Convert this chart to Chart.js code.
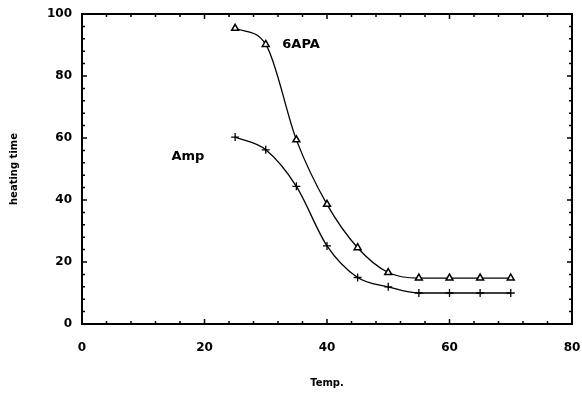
<!DOCTYPE html>
<html>
<head>
<meta charset="utf-8">
<script src="https://cdn.jsdelivr.net/npm/chart.js"></script>
<style>
  html, body { margin: 0; padding: 0; background: #fff; }
  #wrap { width: 582px; height: 393px; }
</style>
</head>
<body>
<div id="wrap"><canvas id="chart"></canvas></div>
<script>
// values
const temps = [25, 30, 35, 40, 45, 50, 55, 60, 65, 70];
const apa6 = [95.4, 90.2, 59.4, 38.6, 24.6, 16.6, 14.8, 14.8, 14.8, 14.8];
const amp = [60.3, 56.2, 44.4, 25.2, 15.0, 12.0, 10.0, 10.0, 10.0, 10.0];
const xTicks = [0, 20, 40, 60, 80];
const yTicks = [0, 20, 40, 60, 80, 100];

const font = "'DejaVu Sans', sans-serif";

function pts(ys) {
  return temps.map((t, i) => ({ x: t, y: ys[i] }));
}

// inward tick marks on all four sides + frame + curve labels
const framePlugin = {
  id: 'frame',
  afterDraw(chart) {
    const ctx = chart.ctx;
    const a = chart.chartArea;
    const xs = chart.scales.x, ys = chart.scales.y;
    ctx.save();
    ctx.strokeStyle = '#000';
    ctx.lineWidth = 2;
    ctx.strokeRect(a.left, a.top, a.right - a.left, a.bottom - a.top);
    ctx.lineWidth = 1.5;
    ctx.beginPath();
    for (let v = 0; v <= 80; v += 4) {
      const p = xs.getPixelForValue(v);
      const len = v % 20 === 0 ? 5 : 3;
      ctx.moveTo(p, a.bottom); ctx.lineTo(p, a.bottom - len);
      ctx.moveTo(p, a.top); ctx.lineTo(p, a.top + len);
    }
    for (let v = 0; v <= 100; v += 4) {
      const p = ys.getPixelForValue(v);
      const len = v % 20 === 0 ? 5 : 3;
      ctx.moveTo(a.left, p); ctx.lineTo(a.left + len, p);
      ctx.moveTo(a.right, p); ctx.lineTo(a.right - len, p);
    }
    ctx.stroke();
    ctx.fillStyle = '#000';
    ctx.font = 'bold 13px ' + font;
    ctx.textBaseline = 'middle';
    ctx.textAlign = 'left';
    ctx.fillText('6APA', xs.getPixelForValue(32.7), ys.getPixelForValue(90.2));
    ctx.fillText('Amp', xs.getPixelForValue(14.6), ys.getPixelForValue(54));
    ctx.restore();
  }
};

new Chart(document.getElementById('chart'), {
  type: 'scatter',
  data: {
    datasets: [
      {
        label: '6APA',
        data: pts(apa6),
        showLine: true,
        cubicInterpolationMode: 'monotone',
        borderColor: '#000',
        borderWidth: 1.3,
        pointStyle: 'triangle',
        pointRadius: 4,
        pointBorderWidth: 1.5,
        pointBorderColor: '#000',
        pointBackgroundColor: '#fff'
      },
      {
        label: 'Amp',
        data: pts(amp),
        showLine: true,
        cubicInterpolationMode: 'monotone',
        borderColor: '#000',
        borderWidth: 1.3,
        pointStyle: 'cross',
        pointRadius: 4,
        pointBorderWidth: 1.3,
        pointBorderColor: '#000'
      }
    ]
  },
  options: {
    responsive: true,
    maintainAspectRatio: false,
    animation: false,
    layout: { padding: { left: 0, right: 10, top: 14, bottom: 0 } },
    plugins: {
      legend: { display: false },
      tooltip: { enabled: false }
    },
    scales: {
      x: {
        type: 'linear',
        min: 0,
        max: 80,
        afterBuildTicks: s => { s.ticks = xTicks.map(v => ({ value: v })); },
        afterFit: s => { s.height = 69; s.paddingLeft = 0; s.paddingRight = 0; },
        grid: { display: false, drawTicks: false },
        border: { display: false },
        ticks: { padding: 17, color: '#000', font: { family: font, size: 12, weight: 'bold' } },
        title: {
          display: true,
          text: 'Temp.',
          color: '#000',
          padding: { top: 19 },
          font: { family: font, size: 10, weight: 'bold' }
        }
      },
      y: {
        min: 0,
        max: 100,
        afterBuildTicks: s => { s.ticks = yTicks.map(v => ({ value: v })); },
        afterFit: s => { s.width = 82; s.paddingTop = 0; s.paddingBottom = 0; },
        grid: { display: false, drawTicks: false },
        border: { display: false },
        ticks: { padding: 10, color: '#000', font: { family: font, size: 12, weight: 'bold' } },
        title: {
          display: true,
          text: 'heating time',
          color: '#000',
          padding: { top: 8, bottom: 0 },
          font: { family: font, size: 10, weight: 'bold' }
        }
      }
    }
  },
  plugins: [framePlugin]
});
</script>
</body>
</html>
